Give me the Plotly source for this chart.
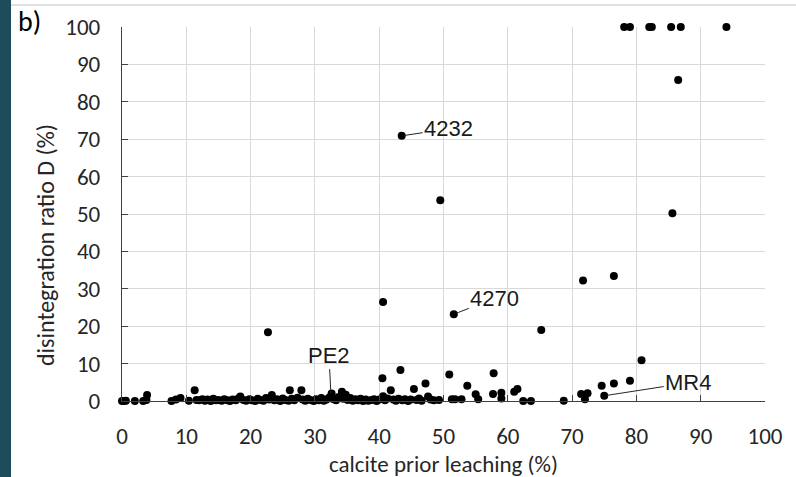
import plotly.graph_objects as go

# ---- data ----
calcite_leached = [
    0.0, 0.3, 0.6, 2.0, 3.3, 3.9, 3.8,
    7.7, 8.4, 9.1, 10.4, 11.3, 11.6,
    12.0, 12.5, 12.9, 13.3, 13.8, 14.2, 14.6, 15.0, 15.5, 15.9, 16.4, 16.8, 17.2, 17.7,
    18.1, 18.4, 18.9, 19.3, 19.8, 20.2, 20.7, 21.1, 21.5, 22.0, 22.4, 22.9, 23.3, 23.7,
    24.1, 24.6, 25.0, 25.4, 25.9, 26.1, 26.4, 26.8, 27.3, 27.9, 28.1, 28.5, 28.9, 29.3,
    29.8, 30.2, 30.6, 31.0, 31.4, 31.8, 32.2, 32.5, 32.6, 32.9, 33.3, 33.7, 34.2, 34.4,
    34.8, 35.1, 35.5, 35.9, 36.3, 36.7, 37.1, 37.5, 37.9, 38.3, 38.8, 39.2, 39.6, 40.0,
    40.5, 40.6, 40.9, 41.3, 41.8, 42.2, 42.6, 43.0, 43.3, 43.6, 44.0, 44.5, 44.9, 45.4,
    45.8, 46.2, 46.6, 47.2, 47.6, 48.0, 48.5, 49.3, 50.9, 51.3, 51.8, 52.8, 53.7, 55.0,
    55.4, 57.8, 57.7, 59.0, 59.0, 61.0, 61.5, 62.4, 63.6, 68.7, 71.4, 72.4, 72.0, 74.6,
    75.0, 76.5, 79.0, 80.8,
    22.7, 40.6, 43.5, 49.5, 51.6, 65.2, 71.7, 76.5, 85.6, 86.5,
    78.1, 79.0, 82.0, 82.4, 85.4, 86.9, 94.0,
]
disintegration_D = [
    0.0, 0.0, 0.1, 0.0, 0.0, 1.6, 0.3,
    0.0, 0.4, 0.8, 0.1, 2.9, 0.3,
    0.2, 0.5, 0.1, 0.4, 0.0, 0.6, 0.2, 0.3, 0.1, 0.5, 0.2, 0.0, 0.4, 0.2,
    0.7, 1.2, 0.3, 0.1, 0.5, 0.2, 0.0, 0.6, 0.3, 0.1, 0.8, 0.4, 1.6, 0.2,
    0.5, 0.0, 0.7, 0.3, 0.1, 2.9, 0.6, 0.2, 0.9, 2.9, 0.4, 0.1, 0.6, 0.3,
    0.0, 0.5, 0.2, 0.8, 0.1, 0.4, 0.9, 1.3, 2.0, 0.5, 0.2, 1.1, 2.5, 0.6,
    1.7, 0.3, 0.8, 0.1, 0.5, 0.2, 0.6, 0.0, 0.4, 0.1, 0.3, 0.5, 0.0, 0.4,
    6.1, 1.3, 0.2, 0.7, 2.9, 0.4, 0.1, 0.6, 8.3, 0.2, 0.5, 0.0, 0.4, 3.2,
    0.3, 0.7, 0.1, 4.7, 1.2, 0.4, 0.2, 0.3, 7.1, 0.5, 0.5, 0.5, 4.1, 1.8,
    0.5, 7.4, 1.9, 2.2, 0.7, 2.5, 3.2, 0.0, 0.0, 0.1, 1.9, 2.1, 0.5, 4.1,
    1.4, 4.7, 5.4, 10.9,
    18.4, 26.5, 70.9, 53.7, 23.2, 19.0, 32.2, 33.4, 50.2, 85.8,
    100, 100, 100, 100, 100, 100, 100,
]

labels = ["4232", "4270", "PE2", "MR4"]
label_x = [43.5, 51.6, 32.5, 75.0]
label_y = [70.9, 23.2, 1.3, 1.4]
label_dx = [47, 41, -2, 84]
label_dy = [-7, -16, -41, -13]

x_ticks = list(range(0, 101, 10))
y_ticks = list(range(0, 101, 10))

TICK_FONT = "Liberation Sans Narrow, Carlito, Calibri, Roboto, sans-serif"
LABEL_FONT = "Liberation Sans, Arial, sans-serif"

fig = go.Figure()
fig.add_trace(go.Scatter(
    x=calcite_leached, y=disintegration_D, mode="markers",
    marker=dict(color="black", size=8, line=dict(width=0)),
    cliponaxis=False, showlegend=False, hoverinfo="x+y",
))

for t, x, y, dx, dy in zip(labels, label_x, label_y, label_dx, label_dy):
    fig.add_annotation(
        x=x, y=y, xref="x", yref="y", text=t, showarrow=True,
        ax=dx, ay=dy, arrowhead=0, arrowwidth=1, arrowcolor="#262626",
        standoff=3, font=dict(family=LABEL_FONT, size=22, color="#1a1a1a"),
    )

L, R, T, B = 122, 31, 27, 76
W, H = 796, 477
pw, ph = W - L - R, H - T - B

def px_x(p):
    return (p - L) / pw

def px_y(p):
    return (H - B - p) / ph

# dark teal strip on the left and light frame line at the top
fig.add_shape(type="rect", xref="paper", yref="paper",
              x0=px_x(-2), x1=px_x(11), y0=px_y(H + 2), y1=px_y(-2),
              fillcolor="#1d4d5b", line=dict(width=0), layer="below")
fig.add_shape(type="line", xref="paper", yref="paper",
              x0=px_x(11), x1=px_x(W + 2), y0=px_y(5), y1=px_y(5),
              line=dict(color="#e0e0e0", width=2))

fig.add_annotation(text="b)", xref="paper", yref="paper", x=px_x(16), y=px_y(22),
                   xanchor="left", yanchor="middle", showarrow=False,
                   font=dict(family=TICK_FONT, size=28, color="#000000"))
fig.add_annotation(text="calcite prior leaching (%)", xref="paper", yref="paper",
                   x=px_x(443), y=px_y(464), xanchor="center", yanchor="middle",
                   showarrow=False, font=dict(family=TICK_FONT, size=23, color="#262626"))
fig.add_annotation(text="disintegration ratio D (%)", xref="paper", yref="paper",
                   x=px_x(45), y=px_y(245), xanchor="center", yanchor="middle",
                   textangle=-90, showarrow=False,
                   font=dict(family=TICK_FONT, size=24, color="#262626"))

fig.update_xaxes(
    range=[0, 100], tickvals=x_ticks, ticktext=[str(v) for v in x_ticks],
    showgrid=True, gridcolor="#d9d9d9", gridwidth=1.3, zeroline=False,
    showline=True, linecolor="#404040", linewidth=1.3,
    ticks="inside", ticklen=6, tickcolor="#404040", tickwidth=1.3,
    tickfont=dict(family=TICK_FONT, size=23, color="#262626"),
    ticklabelstandoff=14,
)
fig.update_yaxes(
    range=[0, 100], tickvals=y_ticks, ticktext=[str(v) for v in y_ticks],
    showgrid=True, gridcolor="#d9d9d9", gridwidth=1.3, zeroline=False,
    showline=True, linecolor="#404040", linewidth=1.3,
    ticks="inside", ticklen=6, tickcolor="#404040", tickwidth=1.3,
    tickfont=dict(family=TICK_FONT, size=23, color="#262626"),
    ticklabelstandoff=16,
)

fig.update_layout(
    width=W, height=H, margin=dict(l=L, r=R, t=T, b=B, autoexpand=False),
    paper_bgcolor="white", plot_bgcolor="white",
)

fig.write_html("out.html")
